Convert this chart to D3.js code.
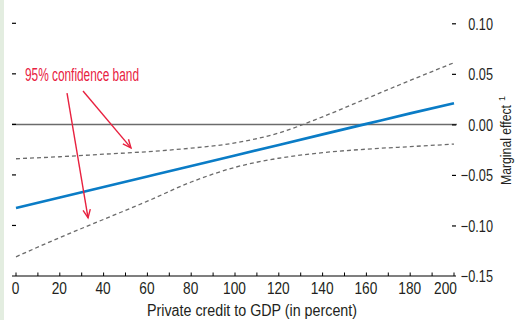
<!DOCTYPE html>
<html>
<head>
<meta charset="utf-8">
<script src="https://cdn.jsdelivr.net/npm/d3@7"></script>
<style>
  body { margin: 0; background: #fff; }
  svg { display: block; }
  text { font-family: "Liberation Sans", Arial, sans-serif; fill: #231f20; }
</style>
</head>
<body>
<svg id="svg" width="516" height="320"></svg>
<script>
const width = 516;
const height = 320;

// private credit to GDP (in percent)
const credit = [0, 20, 40, 60, 80, 100, 120, 140, 160, 180, 200];
const estimate = [-0.0827, -0.0723, -0.0619, -0.0515, -0.0411, -0.0307, -0.0203, -0.0099, 0.0005, 0.0109, 0.021];
const upperBand = [-0.034, -0.032, -0.0295, -0.027, -0.0235, -0.0183, -0.0085, 0.0075, 0.0255, 0.0435, 0.061];
const lowerBand = [-0.131, -0.112, -0.094, -0.076, -0.057, -0.0425, -0.0335, -0.028, -0.0245, -0.022, -0.0195];

const xTicks = [0, 20, 40, 60, 80, 100, 120, 140, 160, 180, 200];
const xMinorTicks = d3.range(0, 201, 10);
const yTicks = [0.10, 0.05, 0.00, -0.05, -0.10, -0.15];

const annotationText = '95% confidence band';
const annotationAt = [4.1, 0.043];
const arrows = [
	{ from: [23.3, 0.031], to: [32.9, -0.0925] },
	{ from: [30.6, 0.033], to: [52.5, -0.0232] }
];

const red = '#e8213f';
const blue = '#0a7cc6';
const grey = '#6b6b6b';

const svg = d3.select('#svg');

const xScale = d3.scaleLinear()
	.domain([0, 200])
	.range([16, 454]);

const yScale = d3.scaleLinear()
	.domain([-0.15, 0.10])
	.range([276, 23.3]);

const fmt = d => d === 0 ? '0.00' : d3.format('.2f')(d).replace('-', '\u2212');

// squeeze text horizontally to look like a condensed face
function condense(sel, factor) {
	sel.each(function() {
		const w = this.getComputedTextLength();
		d3.select(this)
			.attr('textLength', w * factor)
			.attr('lengthAdjust', 'spacingAndGlyphs');
	});
}

// light strip at left edge
svg.append('rect')
	.attr('x', 0).attr('y', 0)
	.attr('width', 4).attr('height', height)
	.attr('fill', '#e3ede0');

// zero line
svg.append('line')
	.attr('x1', 12).attr('x2', 457)
	.attr('y1', yScale(0)).attr('y2', yScale(0))
	.attr('stroke', grey)
	.attr('stroke-width', 1.5);

// left ticks
svg.append('g')
	.selectAll('line')
	.data(yTicks.filter(d => d > -0.15))
	.join('line')
	.attr('x1', 12).attr('x2', 16)
	.attr('y1', d => yScale(d)).attr('y2', d => yScale(d))
	.attr('stroke', '#000')
	.attr('stroke-width', 1.2);

// right axis
const yAxis = d3.axisRight(yScale)
	.tickValues(yTicks)
	.tickSize(4)
	.tickPadding(0)
	.tickFormat(fmt);

const yg = svg.append('g')
	.attr('transform', 'translate(452,0)')
	.call(yAxis);
yg.select('.domain').remove();
yg.attr('font-family', null);
yg.selectAll('.tick line').attr('stroke-width', 1.2);
yg.selectAll('.tick text')
	.attr('x', 41)
	.attr('text-anchor', 'end')
	.attr('dy', '0.36em')
	.style('font-size', '16.5px')
	.call(condense, 0.77);
yg.selectAll('.tick')
	.filter(d => d === -0.15)
	.select('line').remove();

// bottom axis
const xAxis = d3.axisBottom(xScale)
	.tickValues(xTicks)
	.tickSize(0)
	.tickPadding(6)
	.tickFormat(d3.format('d'));

const xg = svg.append('g')
	.attr('transform', 'translate(0,276)')
	.call(xAxis);
xg.select('.domain').remove();
xg.attr('font-family', null);
xg.selectAll('.tick text')
	.attr('x', d => d === 200 ? -9 : -1)
	.attr('y', 17.5)
	.attr('dy', 0)
	.style('font-size', '16.5px')
	.call(condense, 0.83);

svg.append('line')
	.attr('x1', 12).attr('x2', 456)
	.attr('y1', 276).attr('y2', 276)
	.attr('stroke', '#000')
	.attr('stroke-width', 1.2);

svg.append('g')
	.selectAll('line')
	.data(xMinorTicks)
	.join('line')
	.attr('x1', d => xScale(d)).attr('x2', d => xScale(d))
	.attr('y1', 276).attr('y2', 272.5)
	.attr('stroke', '#000')
	.attr('stroke-width', 1);

// lines
const line = d3.line()
	.x((d, i) => xScale(credit[i]))
	.y(d => yScale(d))
	.curve(d3.curveMonotoneX);

svg.append('path')
	.attr('d', line(upperBand))
	.attr('fill', 'none')
	.attr('stroke', grey)
	.attr('stroke-width', 1.3)
	.attr('stroke-dasharray', '4,3');

svg.append('path')
	.attr('d', line(lowerBand))
	.attr('fill', 'none')
	.attr('stroke', grey)
	.attr('stroke-width', 1.3)
	.attr('stroke-dasharray', '4,3');

svg.append('path')
	.attr('d', line(estimate))
	.attr('fill', 'none')
	.attr('stroke', blue)
	.attr('stroke-width', 2.6);

// annotation
svg.append('text')
	.attr('x', xScale(annotationAt[0]))
	.attr('y', yScale(annotationAt[1]))
	.style('font-size', '17.5px')
	.style('fill', red)
	.text(annotationText)
	.attr('textLength', 114)
	.attr('lengthAdjust', 'spacingAndGlyphs');

const arrowG = svg.append('g')
	.attr('stroke', red)
	.attr('stroke-width', 1.4)
	.attr('fill', 'none');

arrows.forEach(a => {
	const x1 = xScale(a.from[0]), y1 = yScale(a.from[1]);
	const x2 = xScale(a.to[0]), y2 = yScale(a.to[1]);
	const ang = Math.atan2(y2 - y1, x2 - x1);
	const len = 9, spread = 0.42;
	arrowG.append('line')
		.attr('x1', x1).attr('y1', y1)
		.attr('x2', x2).attr('y2', y2);
	arrowG.append('path')
		.attr('d', 'M' + (x2 - len * Math.cos(ang - spread)) + ',' + (y2 - len * Math.sin(ang - spread)) +
			'L' + x2 + ',' + y2 +
			'L' + (x2 - len * Math.cos(ang + spread)) + ',' + (y2 - len * Math.sin(ang + spread)));
});

// axis titles
svg.append('text')
	.attr('x', 252)
	.attr('y', 316)
	.attr('text-anchor', 'middle')
	.style('font-size', '16px')
	.text('Private credit to GDP (in percent)')
	.attr('textLength', 210)
	.attr('lengthAdjust', 'spacingAndGlyphs');

const yTitle = svg.append('g')
	.attr('transform', 'translate(510.5,141) rotate(-90)');
yTitle.append('text')
	.attr('x', -4)
	.attr('text-anchor', 'middle')
	.style('font-size', '14px')
	.text('Marginal effect')
	.attr('textLength', 80)
	.attr('lengthAdjust', 'spacingAndGlyphs');
yTitle.append('text')
	.attr('x', 40)
	.attr('y', -6)
	.style('font-size', '9px')
	.text('1');
</script>
</body>
</html>
